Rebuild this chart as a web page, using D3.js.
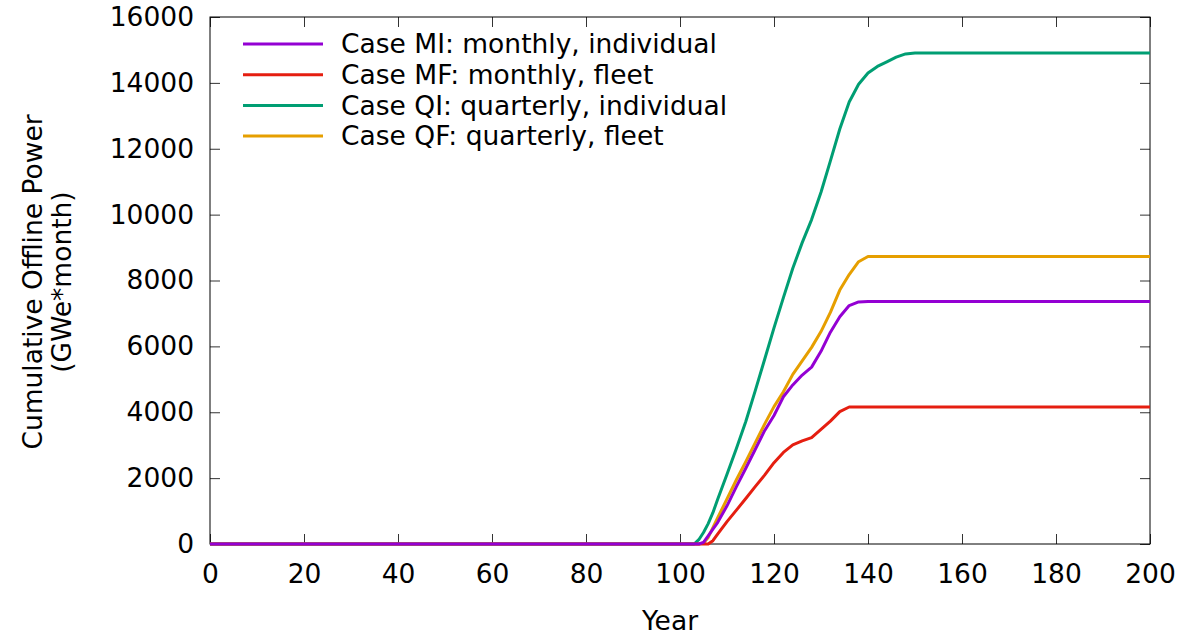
<!DOCTYPE html>
<html>
<head>
<meta charset="utf-8">
<script src="https://cdn.jsdelivr.net/npm/d3@7"></script>
<style>
  body { margin: 0; background: #fff; }
  svg { display: block; font-family: "DejaVu Sans", sans-serif; }
</style>
</head>
<body>
<svg id="chart" width="1182" height="635"></svg>
<script>
// ---- data ----
const years = [0, 103, 104, 105, 106, 107, 108, 110, 112, 114, 116, 118, 120, 122, 124, 126, 128, 130, 132, 134, 136, 138, 140, 142, 144, 146, 148, 150, 200];
const caseMI = [0, 0, 0, 50, 250, 450, 650, 1160, 1740, 2300, 2870, 3440, 3900, 4470, 4830, 5130, 5370, 5850, 6430, 6900, 7240, 7350, 7360, 7360, 7360, 7360, 7360, 7360, 7360];
const caseMF = [0, 0, 0, 0, 0, 100, 300, 680, 1030, 1380, 1740, 2090, 2470, 2780, 3010, 3130, 3230, 3480, 3730, 4020, 4160, 4160, 4160, 4160, 4160, 4160, 4160, 4160, 4160];
const caseQI = [0, 0, 130, 350, 620, 950, 1350, 2120, 2900, 3720, 4650, 5600, 6560, 7480, 8370, 9150, 9850, 10680, 11630, 12600, 13420, 13960, 14300, 14500, 14640, 14780, 14880, 14910, 14910];
const caseQF = [0, 0, 0, 30, 200, 500, 790, 1370, 1950, 2500, 3070, 3640, 4170, 4620, 5150, 5560, 5970, 6450, 7030, 7710, 8180, 8570, 8730, 8730, 8730, 8730, 8730, 8730, 8730];
const seriesNames = ["Case MI: monthly, individual", "Case MF: monthly, fleet", "Case QI: quarterly, individual", "Case QF: quarterly, fleet"];
const seriesColors = ["#9400d3", "#e51e10", "#009e73", "#e69f00"];
const xTicks = [0, 20, 40, 60, 80, 100, 120, 140, 160, 180, 200];
const yTicks = [0, 2000, 4000, 6000, 8000, 10000, 12000, 14000, 16000];

const seriesValues = [caseMI, caseMF, caseQI, caseQF];

// ---- layout ----
const W = 1182, H = 635;
const m = { left: 210, right: 32, top: 17, bottom: 91 };
const iw = W - m.left - m.right, ih = H - m.top - m.bottom;

const svg = d3.select("#chart");
const g = svg.append("g").attr("transform", `translate(${m.left},${m.top})`);

const x = d3.scaleLinear().domain([0, 200]).range([0, iw]);
const y = d3.scaleLinear().domain([0, 16000]).range([ih, 0]);

const fs = 26.5;
const tickLen = 10;
const fmt = d3.format("d");

// axes
const xb = g.append("g").attr("transform", `translate(0,${ih})`)
  .call(d3.axisBottom(x).tickValues(xTicks).tickFormat(fmt).tickSizeInner(-tickLen).tickSizeOuter(0).tickPadding(20));
const xt = g.append("g")
  .call(d3.axisTop(x).tickValues(xTicks).tickSizeInner(-tickLen).tickSizeOuter(0).tickFormat(""));
const yl = g.append("g")
  .call(d3.axisLeft(y).tickValues(yTicks).tickFormat(fmt).tickSizeInner(-tickLen).tickSizeOuter(0).tickPadding(16));
const yr = g.append("g").attr("transform", `translate(${iw},0)`)
  .call(d3.axisRight(y).tickValues(yTicks).tickSizeInner(-tickLen).tickSizeOuter(0).tickFormat(""));

[xb, xt, yl, yr].forEach(a => {
  a.select(".domain").remove();
  a.selectAll(".tick line").attr("stroke", "#333").attr("stroke-width", 1);
  a.selectAll(".tick text").attr("fill", "#000").style("font-size", fs + "px").style("font-family", "DejaVu Sans, sans-serif");
});

// frame
g.append("rect").attr("x", 0).attr("y", 0).attr("width", iw).attr("height", ih)
  .attr("fill", "none").attr("stroke", "#000").attr("stroke-width", 1);

// lines
const line = d3.line().x((d, i) => x(years[i])).y(d => y(d));
const order = [3, 2, 1, 0];
order.forEach(k => {
  g.append("path").datum(seriesValues[k])
    .attr("d", line)
    .attr("fill", "none")
    .attr("stroke", seriesColors[k])
    .attr("stroke-width", 3)
    .attr("stroke-linejoin", "round");
});

// legend
const lg = svg.append("g");
seriesNames.forEach((name, i) => {
  const yy = 44 + i * 30.7;
  lg.append("line").attr("x1", 243).attr("x2", 323).attr("y1", yy).attr("y2", yy)
    .attr("stroke", seriesColors[i]).attr("stroke-width", 3);
  lg.append("text").attr("x", 341).attr("y", yy).attr("dy", "0.35em")
    .style("font-size", fs + "px").attr("fill", "#000").text(name);
});

// axis titles
svg.append("text").attr("x", m.left + iw / 2 - 10).attr("y", 621).attr("dy", "0.35em")
  .attr("text-anchor", "middle").style("font-size", fs + "px").text("Year");
const yt = svg.append("text").attr("transform", `translate(33,282) rotate(-90)`)
  .attr("text-anchor", "middle").style("font-size", fs + "px");
yt.append("tspan").attr("x", 0).attr("dy", "0.35em").text("Cumulative Offline Power");
yt.append("tspan").attr("x", 0).attr("dy", "1.1em").text("(GWe*month)");
</script>
</body>
</html>
